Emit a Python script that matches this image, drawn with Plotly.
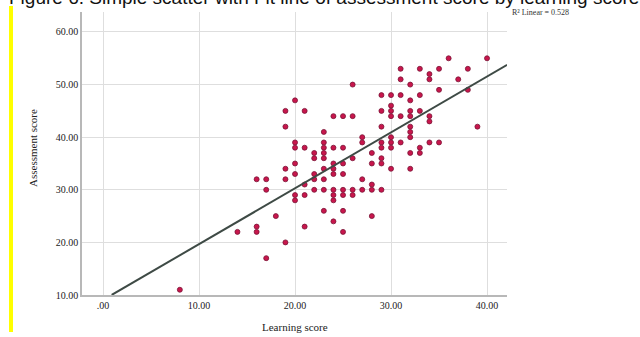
import plotly.graph_objects as go

# Learning score (x) -> list of assessment scores (y)
points = {
    8: [11],
    14: [22],
    16: [32, 23, 22],
    17: [32, 30, 17],
    18: [25],
    19: [45, 42, 34, 32, 20],
    20: [47, 39, 38, 35, 33, 29, 28],
    21: [45, 38, 31, 29, 23],
    22: [37, 36, 33, 32, 30],
    23: [41, 39, 38, 37, 36, 34, 32, 30, 26],
    24: [44, 38, 35, 34, 33, 30, 29, 28, 24],
    25: [44, 38, 35, 33, 30, 29, 26, 22],
    26: [50, 44, 36, 30, 29],
    27: [40, 39, 32, 30],
    28: [37, 35, 31, 30, 25],
    29: [48, 45, 42, 39, 38, 36, 35, 30],
    30: [48, 46, 45, 44, 40, 39, 38, 34],
    31: [53, 51, 48, 44, 39],
    32: [50, 47, 45, 44, 42, 41, 40, 37, 34],
    33: [53, 48, 45, 38, 37],
    34: [52, 51, 44, 43, 39],
    35: [53, 49, 39],
    36: [55],
    37: [51],
    38: [53, 49],
    39: [42],
    40: [55],
}
learning = [x for x, ys in points.items() for _ in ys]
assessment = [y for ys in points.values() for y in ys]

# Fit line
fit_intercept = 9.05
fit_slope = 1.062
fit_x = [0.9, 42.1]
fit_y = [fit_intercept + fit_slope * v for v in fit_x]

x_ticks = [0, 10, 20, 30, 40]
x_ticklabels = [".00", "10.00", "20.00", "30.00", "40.00"]
y_ticks = [10, 20, 30, 40, 50, 60]
y_ticklabels = ["10.00", "20.00", "30.00", "40.00", "50.00", "60.00"]

title_text = "Figure 6. Simple scatter with Fit line of assessment score by learning score"
r2_text = "R² Linear = 0.528"
x_title = "Learning score"
y_title = "Assessment score"

L, R, T, B = 82, 507, 12, 295   # plot-area pixel box
PW, PH = R - L, B - T

def px(x):
    return (x - L) / PW

def py(y):
    return (B - y) / PH

fig = go.Figure()
fig.add_trace(go.Scatter(
    x=learning, y=assessment, mode="markers",
    marker=dict(size=5, color="#c8164c", line=dict(width=0.8, color="#7a1436")),
    showlegend=False, hoverinfo="x+y"))
fig.add_trace(go.Scatter(
    x=fit_x, y=fit_y, mode="lines",
    line=dict(color="#3e4a45", width=2),
    showlegend=False, hoverinfo="skip"))

serif = "Liberation Serif"
fig.update_layout(
    width=640, height=337,
    margin=dict(l=L, r=640 - R, t=T, b=337 - B),
    paper_bgcolor="white", plot_bgcolor="white",
    xaxis=dict(range=[-2.19, 42.08], tickvals=x_ticks, ticktext=x_ticklabels,
               showgrid=True, gridcolor="#dedede", gridwidth=1, zeroline=False,
               showline=True, linecolor="#b8b8b8", linewidth=1.5, ticks="",
               tickfont=dict(family=serif, size=10, color="#222")),
    yaxis=dict(range=[10, 63.8], tickvals=y_ticks, ticktext=y_ticklabels,
               showgrid=True, gridcolor="#dedede", gridwidth=1, zeroline=False,
               showline=True, linecolor="#b8b8b8", linewidth=1.5, ticks="",
               tickfont=dict(family=serif, size=10, color="#222")),
    annotations=[
        dict(text=x_title, xref="paper", yref="paper", x=px(295), y=py(327),
             xanchor="center", yanchor="middle", showarrow=False,
             font=dict(family=serif, size=11, color="#222")),
        dict(text=y_title, xref="paper", yref="paper", x=px(33), y=py(148),
             xanchor="center", yanchor="middle", showarrow=False, textangle=-90,
             font=dict(family=serif, size=11, color="#222")),
        dict(text=r2_text, xref="paper", yref="paper", x=px(510), y=py(12),
             xanchor="left", yanchor="middle", showarrow=False,
             font=dict(family=serif, size=8, color="#333")),
        dict(text=title_text, xref="paper", yref="paper", x=px(7), y=py(10),
             xanchor="left", yanchor="bottom", showarrow=False,
             font=dict(family="Liberation Sans", size=19, color="#111")),
    ],
    shapes=[
        dict(type="rect", xref="paper", yref="paper",
             x0=px(9), x1=px(13), y0=py(332), y1=py(6),
             fillcolor="#ffff00", line=dict(width=0), layer="above"),
    ],
)
fig.write_html("out.html", config={"displayModeBar": False},
               post_script="document.body.style.margin='0';document.body.style.padding='0';")
